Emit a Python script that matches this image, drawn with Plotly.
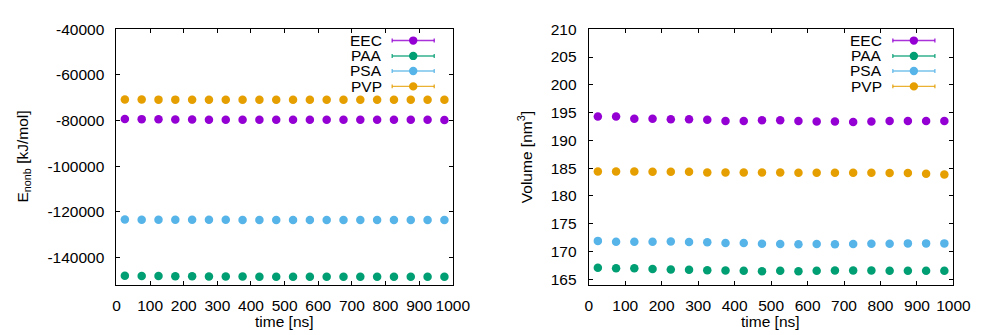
import plotly.graph_objects as go

# ---------------- data ----------------
time_ns = [25, 75, 125, 175, 225, 275, 325, 375, 425, 475,
           525, 575, 625, 675, 725, 775, 825, 875, 925, 975]

series_names = ["EEC", "PAA", "PSA", "PVP"]

enonb_eec = [-79300, -79400, -79500, -79600, -79600, -79700, -79700, -79700, -79700, -79700,
             -79700, -79700, -79700, -79700, -79700, -79700, -79700, -79700, -79700, -79800]
enonb_paa = [-148100, -148200, -148200, -148300, -148300, -148400, -148400, -148400, -148500, -148500,
             -148500, -148500, -148500, -148500, -148500, -148500, -148500, -148500, -148500, -148500]
enonb_psa = [-123400, -123500, -123500, -123500, -123500, -123500, -123500, -123600, -123600, -123600,
             -123600, -123600, -123600, -123600, -123600, -123600, -123600, -123600, -123600, -123600]
enonb_pvp = [-70800, -70800, -70850, -70850, -70900, -70900, -70900, -70900, -70900, -70900,
             -70900, -70900, -70900, -70900, -70900, -70900, -70900, -70900, -70900, -70950]

vol_eec = [194.3, 194.3, 193.9, 193.9, 193.8, 193.8, 193.7, 193.5, 193.5, 193.6,
           193.6, 193.5, 193.4, 193.4, 193.3, 193.4, 193.5, 193.5, 193.5, 193.5]
vol_paa = [167.05, 166.95, 166.95, 166.85, 166.75, 166.7, 166.6, 166.55, 166.5, 166.45,
           166.5, 166.45, 166.5, 166.55, 166.55, 166.55, 166.5, 166.5, 166.5, 166.5]
vol_psa = [171.9, 171.75, 171.75, 171.75, 171.8, 171.7, 171.65, 171.5, 171.5, 171.4,
           171.35, 171.3, 171.35, 171.3, 171.35, 171.4, 171.4, 171.45, 171.45, 171.45]
vol_pvp = [184.4, 184.4, 184.4, 184.35, 184.35, 184.35, 184.2, 184.2, 184.2, 184.2,
           184.2, 184.15, 184.15, 184.15, 184.15, 184.15, 184.1, 184.1, 184.0, 183.85]

x_ticks = [0, 100, 200, 300, 400, 500, 600, 700, 800, 900, 1000]
enonb_ticks = [-140000, -120000, -100000, -80000, -60000, -40000]
vol_ticks = [165, 170, 175, 180, 185, 190, 195, 200, 205, 210]

# ---------------- style ----------------
W, H = 992, 335
FONT = "Liberation Sans, Arial, sans-serif"
FS = 15.5
colors = ["#9400d3", "#009e73", "#56b4e9", "#e69f00"]


def px(x):
    return x / W


def py(y):
    return 1 - y / H


fig = go.Figure()

enonb_series = [enonb_eec, enonb_paa, enonb_psa, enonb_pvp]
vol_series = [vol_eec, vol_paa, vol_psa, vol_pvp]

for name, col, ys in zip(series_names, colors, enonb_series):
    fig.add_trace(go.Scatter(x=time_ns, y=ys, mode="markers", name=name,
                             marker=dict(color=col, size=8.5, symbol="circle"),
                             xaxis="x", yaxis="y", showlegend=False))
for name, col, ys in zip(series_names, colors, vol_series):
    fig.add_trace(go.Scatter(x=time_ns, y=ys, mode="markers", name=name,
                             marker=dict(color=col, size=8.5, symbol="circle"),
                             xaxis="x2", yaxis="y2", showlegend=False))

axis_common = dict(showline=True, linecolor="black", linewidth=1, mirror="allticks",
                   ticks="inside", ticklen=4, tickcolor="black", tickwidth=1,
                   showgrid=False, zeroline=False,
                   tickfont=dict(family=FONT, size=FS, color="black"))

ydom = [py(286), py(21)]
fig.update_layout(
    width=W, height=H,
    margin=dict(l=0, r=0, t=0, b=0),
    paper_bgcolor="white", plot_bgcolor="white",
    font=dict(family=FONT, size=FS, color="black"),
    showlegend=False,
    xaxis=dict(domain=[px(115), px(459)], anchor="y", range=[0, 1000],
               tickvals=x_ticks, ticktext=[str(v) for v in x_ticks],
               ticklabelstandoff=7, **axis_common),
    yaxis=dict(domain=ydom, anchor="x", range=[-152000, -40000],
               tickvals=enonb_ticks, ticktext=[str(v) for v in enonb_ticks],
               ticklabelstandoff=8, **axis_common),
    xaxis2=dict(domain=[px(598), px(971)], anchor="y2", range=[0, 1000],
                tickvals=x_ticks, ticktext=[str(v) for v in x_ticks],
                ticklabelstandoff=7, **axis_common),
    yaxis2=dict(domain=ydom, anchor="x2", range=[164, 210],
                tickvals=vol_ticks, ticktext=[str(v) for v in vol_ticks],
                ticklabelstandoff=8, **axis_common),
)

annotations = []
shapes = []

# axis titles
for cx in (287, 784):
    annotations.append(dict(text="time [ns]", x=px(cx), y=py(324), xref="paper", yref="paper",
                            xanchor="center", yanchor="middle", showarrow=False,
                            font=dict(family=FONT, size=FS)))
annotations.append(dict(text="E<sub>nonb</sub> [kJ/mol]", x=px(19), y=py(153.5),
                        xref="paper", yref="paper", textangle=-90,
                        xanchor="center", yanchor="middle", showarrow=False,
                        font=dict(family=FONT, size=FS)))
annotations.append(dict(text="Volume [nm<sup>3</sup>]", x=px(533), y=py(153.5),
                        xref="paper", yref="paper", textangle=-90,
                        xanchor="center", yanchor="middle", showarrow=False,
                        font=dict(family=FONT, size=FS)))

# custom gnuplot-style legends
legend_rows = [32.7, 48.7, 64.3, 80.3]
legend_boxes = [dict(text_right=388, x0=397, x1=440, cx=418.5),
                dict(text_right=899, x0=909, x1=952, cx=930.5)]
R = 4.3
for box in legend_boxes:
    for name, col, ry in zip(series_names, colors, legend_rows):
        annotations.append(dict(text=name, x=px(box["text_right"]), y=py(ry),
                                xref="paper", yref="paper", xanchor="right", yanchor="middle",
                                borderpad=0, showarrow=False, font=dict(family=FONT, size=FS)))
        line = dict(color=col, width=1.4)
        shapes.append(dict(type="line", xref="paper", yref="paper",
                           x0=px(box["x0"]), x1=px(box["x1"]), y0=py(ry), y1=py(ry),
                           line=line, opacity=0.8))
        for cxp in (box["x0"], box["x1"]):
            shapes.append(dict(type="line", xref="paper", yref="paper",
                               x0=px(cxp), x1=px(cxp), y0=py(ry - 2), y1=py(ry + 2),
                               line=line, opacity=0.8))
        shapes.append(dict(type="circle", xref="paper", yref="paper",
                           x0=px(box["cx"] - R), x1=px(box["cx"] + R),
                           y0=py(ry + R), y1=py(ry - R),
                           fillcolor=col, line=dict(color=col, width=0)))

fig.update_layout(annotations=annotations, shapes=shapes)

fig.write_html("out.html")
